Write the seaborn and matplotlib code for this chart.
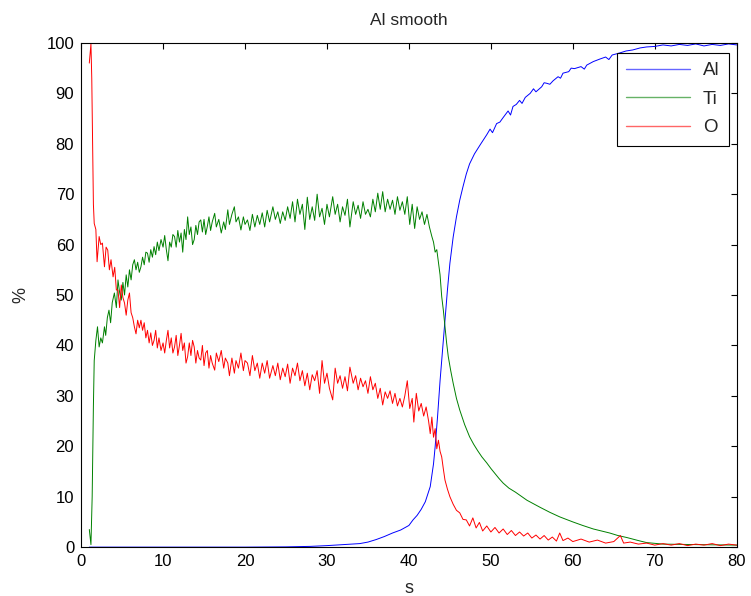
import numpy as np
import pandas as pd
import matplotlib
matplotlib.use("Agg")
import matplotlib.pyplot as plt
import seaborn as sns

# ---- data ----
s_al = [1.0, 10, 20, 25, 28, 30, 32, 34, 35, 36, 37, 38, 39, 40, 40.5, 41, 41.5, 42, 42.6, 43.0, 43.2,
        43.5, 43.8, 44.1, 44.4, 44.7, 45.0, 45.4, 45.8, 46.2, 46.6, 47.0, 47.4, 48.0, 48.7, 49.5,
        49.9, 50.2, 50.7, 51.1, 51.5, 52.1, 52.4, 52.7, 53.1, 53.5, 53.8, 54.2, 54.8, 55.2, 55.5,
        56.2, 56.5, 56.8, 57.2, 57.6, 58.2, 58.5, 58.8, 59.5, 59.8, 60.2, 61.0, 61.4, 61.7, 62.5,
        63.3, 64.0, 64.4, 64.8, 65.7, 66.5, 67.3, 68.2, 69.0, 70.0, 71, 72, 73, 74, 75, 76, 77, 78, 79, 80]
al = [0.0, 0.0, 0.0, 0.05, 0.15, 0.3, 0.5, 0.7, 1.0, 1.5, 2.1, 2.8, 3.4, 4.3, 5.4, 6.3, 7.5, 9.0, 12, 16.5, 19.9,
      26, 33, 39, 45, 51, 56.3, 61.5, 65.5, 68.8, 71.5, 74, 76, 78, 79.8, 81.8,
      82.9, 82.2, 84.0, 84.3, 85.2, 86.5, 85.7, 87.4, 87.8, 88.6, 88.0, 89.2, 90.0, 90.9, 90.3,
      91.3, 92.1, 92.0, 91.8, 92.5, 93.3, 93.0, 94.0, 94.3, 95.0, 94.9, 95.3, 94.8, 95.6, 96.3,
      96.8, 97.2, 96.7, 97.6, 98.0, 98.4, 98.6, 99.0, 99.2, 99.3, 99.6, 99.4, 99.7, 99.5, 99.8, 99.4, 99.7, 99.5, 99.8, 99.6]

s_ti = [1.0, 1.1, 1.2, 1.35, 1.5, 1.6, 1.8, 2.0, 2.2, 2.4, 2.6, 2.85, 3.0, 3.2, 3.4, 3.6, 3.8, 4.06, 4.3,
        4.5, 4.7, 4.9, 5.1, 5.3, 5.5, 5.7, 5.9, 6.1, 6.3, 6.5, 6.7, 6.9, 7.1, 7.3, 7.5, 7.7, 7.9, 8.1,
        8.3, 8.5, 8.7, 8.9, 9.1, 9.3, 9.5, 9.75, 10.0, 10.2, 10.4, 10.6, 10.8, 11.0, 11.2, 11.4, 11.6,
        11.8, 12.0, 12.2, 12.4, 12.6, 12.8, 13.0, 13.2, 13.4, 13.6, 13.8, 14.0, 14.2, 14.4, 14.6, 14.8,
        15.0, 15.2, 15.4, 15.6, 15.8, 16.0, 16.3, 16.5, 16.8, 17.1, 17.4, 17.6, 17.9, 18.1, 18.4, 18.7,
        18.9, 19.2, 19.5, 19.8, 20.0, 20.3, 20.6, 20.9, 21.2, 21.5, 21.8, 22.1, 22.4, 22.7, 23.0, 23.4,
        23.7, 24.0, 24.3, 24.6, 24.9, 25.2, 25.5, 25.8, 26.1, 26.4, 26.7, 27.0, 27.3, 27.6, 27.9, 28.2,
        28.5, 28.8, 29.1, 29.4, 29.7, 30.0, 30.3, 30.7, 31.0, 31.3, 31.6, 31.9, 32.2, 32.5, 32.8, 33.2,
        33.5, 33.8, 34.1, 34.4, 34.7, 35.0, 35.3, 35.6, 35.9, 36.2, 36.5, 36.8, 37.1, 37.4, 37.7, 38.0,
        38.3, 38.6, 38.9, 39.2, 39.5, 39.8, 40.1, 40.4, 40.7, 41.0, 41.3, 41.6, 41.9, 42.2, 42.5, 42.8,
        43.0, 43.2, 43.4, 43.6, 43.8, 44.0, 44.2, 44.4, 44.6, 44.8, 45.1, 45.4, 45.8, 46.2, 46.8, 47.4,
        47.9, 48.4, 48.9, 49.5, 50.0, 50.5, 51.0, 51.5, 52.2, 53.0, 53.7, 54.4, 55.2, 56.0, 57.2, 58.4,
        59.2, 60.0, 61.2, 62.5, 63.5, 64.5, 65.5, 66.6, 68.0, 69.0, 71, 75, 80]
ti = [3.5, 2.0, 0.5, 10, 28, 37, 41, 43.7, 39.7, 41.5, 40.5, 43.7, 42, 45.5, 47, 44.5, 48.5, 50.4, 47.5,
      53, 50.5, 49, 52.5, 50, 54, 51.6, 55, 53, 56, 57, 55, 56.5, 54.5, 55.6, 57.5, 56, 58.5, 58.3,
      56.5, 59, 57.5, 59.6, 58, 60.5, 58.8, 61, 59.5, 61.8, 59, 56.8, 60.5, 59.5, 62, 61.6, 59.5,
      62.8, 60.5, 62.3, 58.5, 63, 61, 65.5, 62, 63.5, 60, 61, 63.8, 62, 64.5, 64.9, 62.5,
      65, 62, 63.6, 65.5, 62.8, 64.5, 66.2, 63.5, 65, 62.3, 64.5, 63, 66.9, 64, 66, 67.5,
      64.5, 65.5, 62.9, 65.5, 64, 64.9, 62.8, 66, 63.5, 65.8, 64, 66.3, 63.5, 66.8, 64.5, 67.5,
      65, 66.5, 64.2, 66.5, 64.8, 67.5, 65.2, 68.5, 64.5, 69, 66, 68, 63, 69.4, 65, 67.5,
      64.8, 70, 65.5, 67.2, 64, 68, 65.5, 69.5, 66, 68, 64.5, 67.5, 65.8, 69, 63.5, 68.5,
      66, 67.8, 65.2, 68.5, 66, 67, 65.5, 69, 66.5, 70.2, 67, 70.5, 66.5, 69, 67, 68.8,
      66, 69.5, 66.8, 68.5, 66, 69.5, 64, 68, 63.2, 67.5, 65, 66.5, 64, 66, 63.5, 61.6,
      60.5, 58.5, 59, 56.5, 54, 49.7, 47, 43.7, 40.5, 37.8, 35, 32.5, 29.5, 27.2, 24.3, 21.9,
      20.4, 19.1, 17.9, 16.7, 15.6, 14.6, 13.6, 12.7, 11.7, 10.9, 10.1, 9.3, 8.6, 7.9, 6.9, 6.0,
      5.5, 5.0, 4.3, 3.6, 3.2, 2.8, 2.3, 1.9, 1.3, 0.9, 0.6, 0.5, 0.4]

s_o = [1.0, 1.1, 1.2, 1.3, 1.4, 1.5, 1.6, 1.8, 1.95, 2.2, 2.4, 2.6, 2.85, 3.05, 3.25, 3.45, 3.65, 3.9,
       4.1, 4.3, 4.5, 4.7, 4.9, 5.1, 5.3, 5.5, 5.7, 5.9, 6.1, 6.3, 6.5, 6.7, 6.9, 7.1, 7.3, 7.5, 7.7,
       7.9, 8.1, 8.3, 8.5, 8.7, 8.9, 9.1, 9.3, 9.5, 9.75, 10.0, 10.2, 10.4, 10.6, 10.8, 11.0, 11.2,
       11.4, 11.6, 11.8, 12.0, 12.2, 12.4, 12.6, 12.8, 13.0, 13.2, 13.4, 13.6, 13.8, 14.0, 14.2, 14.4,
       14.6, 14.8, 15.0, 15.2, 15.4, 15.6, 15.8, 16.0, 16.3, 16.5, 16.8, 17.1, 17.4, 17.6, 17.9, 18.1,
       18.4, 18.7, 18.9, 19.2, 19.5, 19.8, 20.0, 20.3, 20.6, 20.9, 21.2, 21.5, 21.8, 22.1, 22.4, 22.7,
       23.0, 23.4, 23.7, 24.0, 24.3, 24.6, 24.9, 25.2, 25.5, 25.8, 26.1, 26.4, 26.7, 27.0, 27.3, 27.6,
       27.9, 28.2, 28.5, 28.8, 29.1, 29.4, 29.7, 30.0, 30.3, 30.7, 31.0, 31.3, 31.6, 31.9, 32.2, 32.5,
       32.8, 33.2, 33.5, 33.8, 34.1, 34.4, 34.7, 35.0, 35.3, 35.6, 35.9, 36.2, 36.5, 36.8, 37.1, 37.4,
       37.7, 38.0, 38.3, 38.6, 38.9, 39.2, 39.5, 39.8, 40.1, 40.4, 40.6, 40.9, 41.2, 41.5, 41.8, 42.1,
       42.4, 42.6, 42.8, 43.0, 43.2, 43.4, 43.6, 43.8, 44.0, 44.2, 44.4, 44.7, 45.0, 45.4, 45.8, 46.2,
       46.6, 47.0, 47.4, 47.8, 48.2, 48.6, 49.0, 49.5, 50.0, 50.5, 51.0, 51.5, 52.0, 52.5, 53.0, 53.5,
       54.0, 54.5, 55.0, 55.5, 56.0, 56.5, 57.0, 57.5, 58.0, 58.4, 58.8, 59.4, 60, 61, 62, 63, 64, 65,
       65.8, 66.2, 67, 68, 69, 70, 71, 72, 73, 74, 75, 76, 77, 78, 79, 80]
o = [96, 98, 99.8, 93, 80, 68, 64.2, 63, 56.6, 61.6, 60, 60.3, 55.6, 59.5, 58.9, 55, 57, 53.6,
     55.5, 51, 51, 47.5, 52, 49.5, 48.4, 46, 49, 50.4, 46.5, 45.5, 43.7, 42.3, 45, 43.5, 45, 43, 44.5,
     41.5, 43, 40.5, 42.5, 40, 41, 43, 39.5, 41.5, 39, 40.5, 38.5, 41, 43, 39.5, 41.5, 38.5,
     39.7, 42, 38, 40, 42.4, 39, 40.5, 36.5, 37.8, 40.5, 38, 41, 39.7, 36.5, 39, 37.5,
     37.1, 40, 36, 38.5, 39, 35.5, 38, 36.5, 35.1, 38.5, 36.8, 39, 35.5, 37.5, 36.5, 34,
     37.5, 34.5, 37, 35.5, 38.5, 35, 37, 36.5, 34, 38, 35, 36.5, 33.5, 36.5, 34.5, 37,
     33.5, 36, 34, 36.5, 33.2, 35.5, 33.8, 36.3, 32.5, 35.5, 34, 36.5, 33, 35, 32, 34.5,
     31.2, 34.2, 33, 35, 30.5, 37, 32.5, 34.5, 31.5, 29.2, 35.5, 32.5, 34, 31.5, 33.8, 31,
     35.7, 32.5, 34, 31.2, 33.5, 31.8, 33, 30.5, 33.8, 31.2, 32.5, 29.5, 31.5, 28.2, 30.8, 29.5,
     31, 28.5, 30.5, 28, 29.5, 27.8, 30, 33, 27.5, 29.5, 24.8, 30.5, 27, 28.5, 26, 27.8,
     25, 22.5, 25.8, 21.8, 23.5, 19.5, 21.2, 19, 17.9, 15.5, 13.3, 11.5, 10, 8.5, 7.3, 6.8,
     5.5, 5.4, 4.2, 5.8, 3.8, 4.9, 3.2, 4.2, 3.0, 3.9, 2.8, 3.6, 2.5, 3.3, 2.3, 3.0,
     2.2, 2.8, 1.8, 2.4, 1.6, 2.3, 1.4, 2.0, 1.2, 2.8, 1.3, 1.8, 1.1, 1.6, 1.0, 1.4, 0.8, 1.1,
     2.3, 0.8, 1.0, 0.6, 0.8, 0.4, 0.7, 0.4, 0.7, 0.3, 0.6, 0.4, 0.7, 0.3, 0.6, 0.4]

labels = ["Al", "Ti", "O"]
colors = ["#0000ff", "#008000", "#ff0000"]

df = pd.concat([
    pd.DataFrame({"s": s_al, "v": al, "el": "Al"}),
    pd.DataFrame({"s": s_ti, "v": ti, "el": "Ti"}),
    pd.DataFrame({"s": s_o, "v": o, "el": "O"}),
], ignore_index=True)

sns.set_theme(style="white")
plt.rcParams["font.family"] = ["Liberation Sans", "DejaVu Sans"]

fig = plt.figure(figsize=(7.51, 5.96), dpi=100)
ax = fig.add_axes([0.108, 0.082, 0.873, 0.846])

sns.lineplot(data=df, x="s", y="v", hue="el", hue_order=labels,
             palette=dict(zip(labels, colors)), estimator=None, sort=True,
             linewidth=0.7, ax=ax)

ax.set_xlim(0, 80)
ax.set_ylim(0, 100)
ax.set_xticks(np.arange(0, 81, 10))
ax.set_yticks(np.arange(0, 101, 10))
ax.tick_params(direction="in", length=4, width=0.8, top=True, right=True,
               labelsize=12, colors="black", pad=5)
for sp in ax.spines.values():
    sp.set_visible(True)
    sp.set_color("black")
    sp.set_linewidth(0.8)
ax.set_xlabel("s", fontsize=13, labelpad=8)
ax.set_ylabel("%", fontsize=13, labelpad=12)
ax.set_title("Al smooth", fontsize=12.5, pad=13)

leg = ax.legend(title=None, loc="upper right", bbox_to_anchor=(0.988, 0.98),
                borderaxespad=0,
                fontsize=13.5, frameon=True, fancybox=False, framealpha=1,
                edgecolor="black", handlelength=3.4, labelspacing=0.6,
                borderpad=0.5, handletextpad=0.7)
leg.get_frame().set_linewidth(0.8)
for h in leg.get_lines():
    h.set_linewidth(1.0)
    h.set_alpha(0.6)

fig.savefig("out.png", dpi=100)
